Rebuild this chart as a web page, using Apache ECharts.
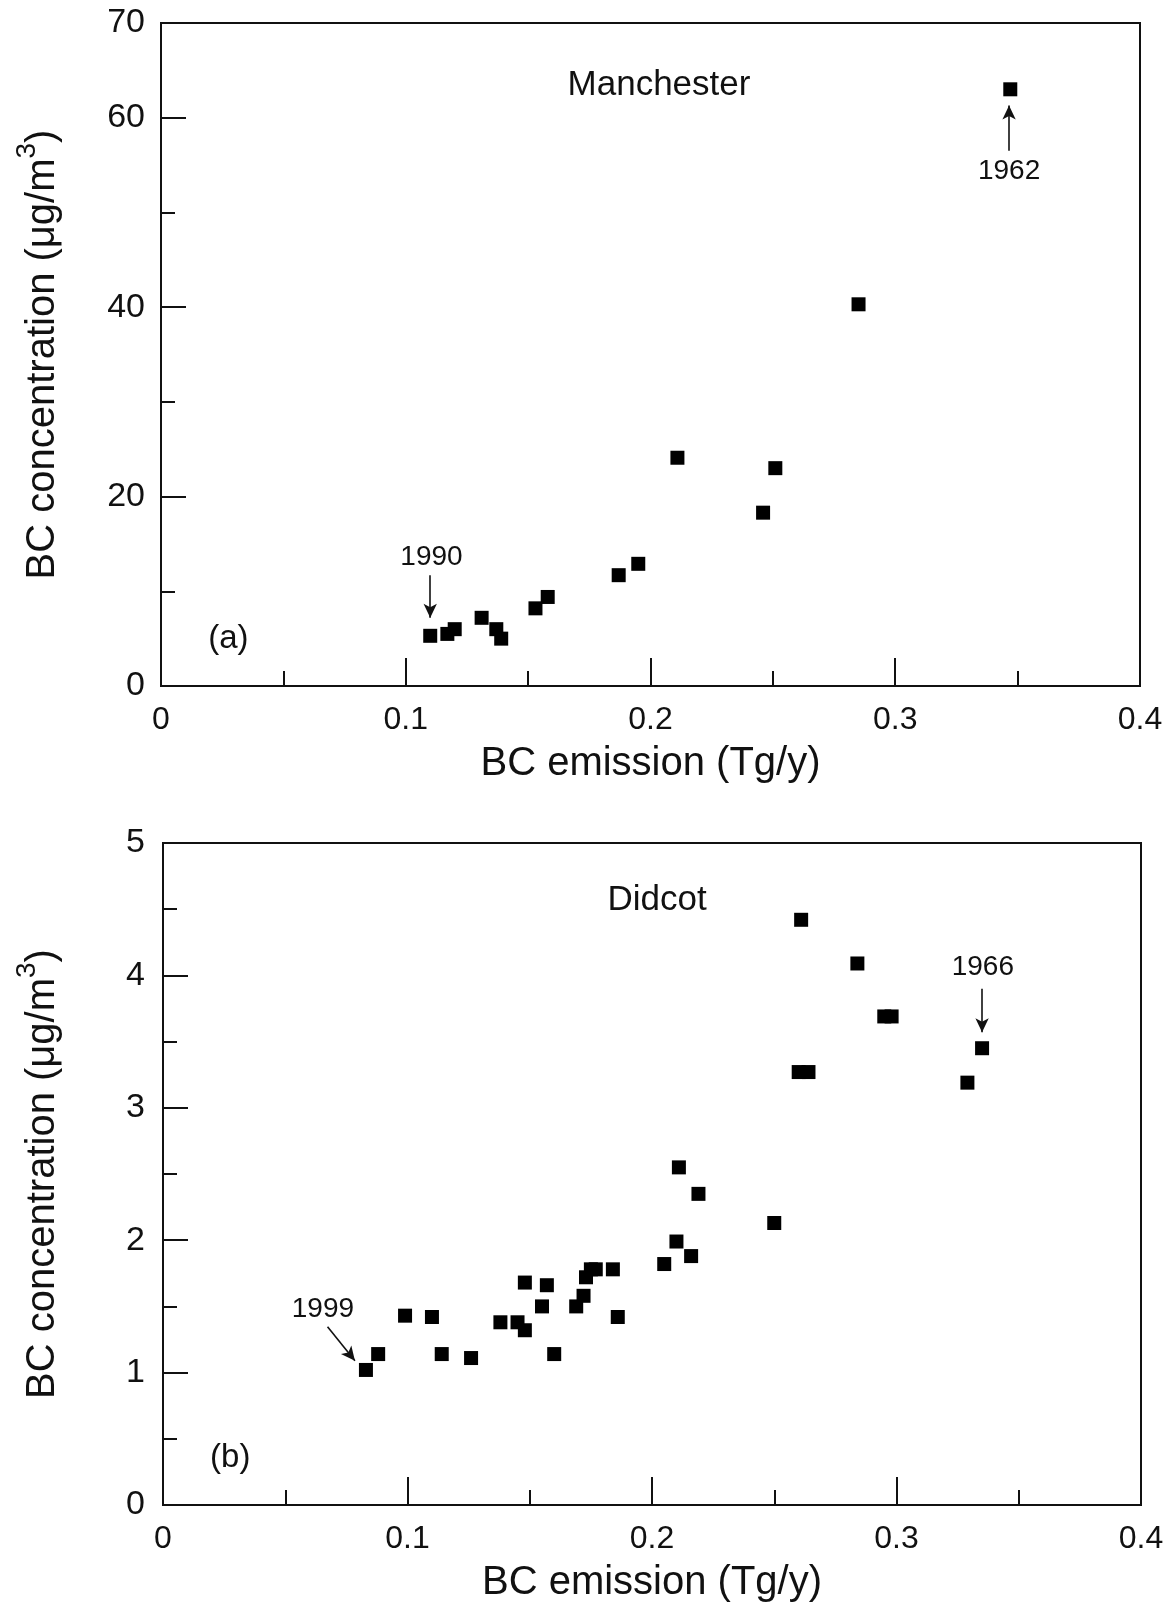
<!DOCTYPE html>
<html style="height: 100%">
<head>
    <meta charset="utf-8">
</head>
<body style="height: 100%; margin: 0; background: #fff">
    <div id="container" style="width: 1173px; height: 1612px"></div>
    <script type="text/javascript" src="https://cdn.jsdelivr.net/npm/echarts@6/dist/echarts.min.js"></script>
    <script type="text/javascript">
        // (a) Manchester
        var manEmission = [0.110, 0.117, 0.120, 0.131, 0.137, 0.139, 0.153, 0.158, 0.187, 0.195, 0.211, 0.246, 0.251, 0.285, 0.347];
        var manConc = [5.3, 5.5, 6.0, 7.2, 6.0, 5.0, 8.2, 9.4, 11.7, 12.9, 24.1, 18.3, 23.0, 40.3, 63.0];
        // (b) Didcot
        var didEmission = [0.083, 0.088, 0.099, 0.110, 0.114, 0.126, 0.138, 0.145, 0.148, 0.148, 0.155, 0.157, 0.160, 0.169, 0.172,
            0.173, 0.175, 0.177, 0.184, 0.186, 0.205, 0.210, 0.211, 0.216, 0.219, 0.250, 0.260, 0.264, 0.261, 0.284, 0.295, 0.298, 0.329, 0.335];
        var didConc = [1.02, 1.14, 1.43, 1.42, 1.14, 1.11, 1.38, 1.38, 1.32, 1.68, 1.50, 1.66, 1.14, 1.50, 1.58,
            1.72, 1.78, 1.78, 1.78, 1.42, 1.82, 1.99, 2.55, 1.88, 2.35, 2.13, 3.27, 3.27, 4.42, 4.09, 3.69, 3.69, 3.19, 3.45];

        var xTicks = [0, 0.1, 0.2, 0.3, 0.4];
        var manTickLabels = [0, 20, 40, 60, 70];
        var didTickLabels = [0, 1, 2, 3, 4, 5];

        function pairs(xs, ys) {
            return xs.map(function (x, i) { return [x, ys[i]]; });
        }

        var font = 'Liberation Sans, Arial, Helvetica, sans-serif';
        var ink = '#111';

        var dom = document.getElementById("container");
        var myChart = echarts.init(dom);

        function xAxisFor(gridIndex) {
            return {
                type: 'value', gridIndex: gridIndex,
                min: 0, max: 0.4, interval: 0.1,
                name: 'BC emission (Tg/y)', nameLocation: 'middle', nameGap: 58,
                nameTextStyle: { fontFamily: font, fontSize: 40, color: ink },
                axisLine: { lineStyle: { color: ink, width: 2 } },
                axisTick: { inside: true, length: 28, lineStyle: { color: ink, width: 2 } },
                minorTick: { show: true, splitNumber: 2, length: 15, lineStyle: { color: ink, width: 2 } },
                splitLine: { show: false },
                axisLabel: {
                    margin: 18, fontFamily: font, fontSize: 32, color: ink,
                    formatter: function (v) { return xTicks.indexOf(v) >= 0 ? String(v) : ''; }
                }
            };
        }

        var yName = '{m|BC concentration (μg/m}{s|3}{m|)}';
        var yNameStyle = {
            fontFamily: font, fontSize: 40, color: ink,
            rich: {
                m: { fontFamily: font, fontSize: 40, color: ink, lineHeight: 60 },
                s: { fontFamily: font, fontSize: 28, color: ink, lineHeight: 24, verticalAlign: 'top' }
            }
        };

        var option = {
            animation: false,
            backgroundColor: '#fff',
            title: [
                { text: 'Manchester', left: 654, top: 80, textAlign: 'center', textVerticalAlign: 'middle',
                    textStyle: { fontFamily: font, fontSize: 35, fontWeight: 'normal', color: ink } },
                { text: 'Didcot', left: 652, top: 895, textAlign: 'center', textVerticalAlign: 'middle',
                    textStyle: { fontFamily: font, fontSize: 35, fontWeight: 'normal', color: ink } }
            ],
            grid: [
                { left: 161, width: 979, top: 23, height: 663, show: true, borderColor: ink, borderWidth: 2 },
                { left: 163, width: 978, top: 843, height: 662, show: true, borderColor: ink, borderWidth: 2 }
            ],
            xAxis: [xAxisFor(0), xAxisFor(1)],
            yAxis: [
                {   // top: 10-step short ticks + labels
                    type: 'value', gridIndex: 0, min: 0, max: 70, interval: 10,
                    name: yName, nameLocation: 'middle', nameGap: 88, nameTextStyle: yNameStyle,
                    axisLine: { lineStyle: { color: ink, width: 2 } },
                    axisTick: { inside: true, length: 14, lineStyle: { color: ink, width: 2 } },
                    splitLine: { show: false },
                    axisLabel: {
                        margin: 16, fontFamily: font, fontSize: 34, color: ink,
                        formatter: function (v) { return manTickLabels.indexOf(v) >= 0 ? String(v) : ''; }
                    }
                },
                {   // top: 20-step long ticks
                    type: 'value', gridIndex: 0, min: 0, max: 70, interval: 20, position: 'left',
                    axisLine: { show: false },
                    axisTick: { inside: true, length: 25, lineStyle: { color: ink, width: 2 } },
                    splitLine: { show: false },
                    axisLabel: { show: false }
                },
                {
                    type: 'value', gridIndex: 1, min: 0, max: 5, interval: 1,
                    name: yName, nameLocation: 'middle', nameGap: 90, nameTextStyle: yNameStyle,
                    axisLine: { lineStyle: { color: ink, width: 2 } },
                    axisTick: { inside: true, length: 25, lineStyle: { color: ink, width: 2 } },
                    minorTick: { show: true, splitNumber: 2, length: 14, lineStyle: { color: ink, width: 2 } },
                    splitLine: { show: false },
                    axisLabel: {
                        margin: 18, fontFamily: font, fontSize: 34, color: ink,
                        formatter: function (v) { return didTickLabels.indexOf(v) >= 0 ? String(v) : ''; }
                    }
                }
            ],
            series: [
                {
                    type: 'scatter', xAxisIndex: 0, yAxisIndex: 0,
                    symbol: 'rect', symbolSize: 14,
                    itemStyle: { color: '#000', opacity: 1 },
                    data: pairs(manEmission, manConc),
                    markPoint: {
                        symbol: 'rect', symbolSize: 0, silent: true,
                        label: { show: true, position: 'inside', fontFamily: font, color: ink, formatter: '{b}' },
                        data: [
                            { name: '1962', coord: [0.3465, 54.3], label: { fontSize: 28 } },
                            { name: '1990', coord: [0.1105, 13.6], label: { fontSize: 28 } },
                            { name: '(a)', coord: [0.0275, 5.0], label: { fontSize: 33 } }
                        ]
                    },
                    markLine: {
                        silent: true, symbol: ['none', 'arrow'], symbolSize: [10, 14],
                        label: { show: false },
                        lineStyle: { color: ink, width: 1.6, type: 'solid' },
                        data: [
                            [{ coord: [0.3465, 56.5] }, { coord: [0.3465, 61.3] }],
                            [{ coord: [0.110, 11.7] }, { coord: [0.110, 7.2] }]
                        ]
                    }
                },
                {
                    type: 'scatter', xAxisIndex: 1, yAxisIndex: 2,
                    symbol: 'rect', symbolSize: 14,
                    itemStyle: { color: '#000', opacity: 1 },
                    data: pairs(didEmission, didConc),
                    markPoint: {
                        symbol: 'rect', symbolSize: 0, silent: true,
                        label: { show: true, position: 'inside', fontFamily: font, color: ink, formatter: '{b}' },
                        data: [
                            { name: '1966', coord: [0.3353, 4.064], label: { fontSize: 28 } },
                            { name: '1999', coord: [0.0654, 1.477], label: { fontSize: 28 } },
                            { name: '(b)', coord: [0.0275, 0.353], label: { fontSize: 33 } }
                        ]
                    },
                    markLine: {
                        silent: true, symbol: ['none', 'arrow'], symbolSize: [10, 14],
                        label: { show: false },
                        lineStyle: { color: ink, width: 1.6, type: 'solid' },
                        data: [
                            [{ coord: [0.335, 3.90] }, { coord: [0.335, 3.57] }],
                            [{ coord: [0.0673, 1.346] }, { coord: [0.0785, 1.09] }]
                        ]
                    }
                }
            ]
        };

        myChart.setOption(option, true);
    </script>
</body>
</html>
